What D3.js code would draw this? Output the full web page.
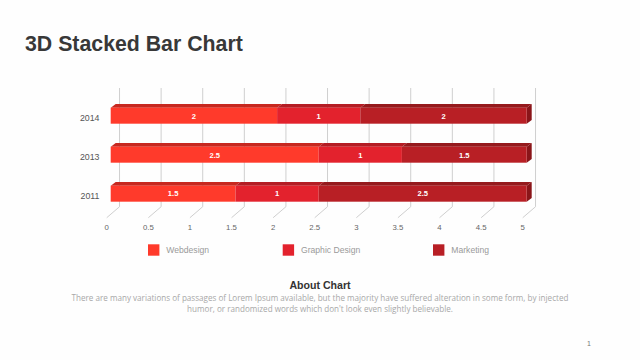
<!DOCTYPE html>
<html><head><meta charset="utf-8">
<script src="https://cdn.jsdelivr.net/npm/d3@7"></script>
<style>html,body{margin:0;padding:0;background:#fff;}svg{display:block;}</style>
</head><body>
<svg id="c" width="640" height="360"></svg>
<script>
const categories = ["2014", "2013", "2011"];
const seriesNames = ["Webdesign", "Graphic Design", "Marketing"];
const webdesign = [2, 2.5, 1.5];
const graphicDesign = [1, 1, 1];
const marketing = [2, 1.5, 2.5];
const xTicks = [0, 0.5, 1, 1.5, 2, 2.5, 3, 3.5, 4, 4.5, 5];
const tickLabels = ["0", "0.5", "1", "1.5", "2", "2.5", "3", "3.5", "4", "4.5", "5"];
const title = "3D Stacked Bar Chart";
const aboutTitle = "About Chart";
const aboutLines = [
  "There are many variations of passages of Lorem Ipsum available, but the majority have suffered alteration in some form, by injected",
  "humor, or randomized words which don't look even slightly believable."
];

const frontColors = ["#FF3A2B", "#E3222D", "#B81F25"];
const topColors = ["#C7281F", "#B41D24", "#951A1D"];
const sideColor = "#8A1519";

const svg = d3.select("#c");
svg.append("rect").attr("width", 640).attr("height", 360).attr("fill", "#fefefe");

svg.append("text").attr("x", 25).attr("y", 50.5).text(title)
  .attr("font-family", "Liberation Sans, Arial, sans-serif").attr("font-weight", "bold")
  .attr("font-size", 21.3).attr("fill", "#383838");

const x = d3.scaleLinear().domain([0, 5]).range([110.7, 526.7]);
const y = d3.scaleBand().domain(categories).range([84.7, 224.7]).padding(0.59);

// depth geometry
const D = {dx: 12.8, dy: -11};
const fFrac = -0.31, bFrac = 0.69;
const floorY = 214.3;
const gridTop = 88;
const barDepth = {dx: 5, dy: -3.6};

const g = svg.append("g");
// back wall gridlines
g.selectAll("line.grid").data(xTicks).enter().append("line")
  .attr("x1", d => x(d) + bFrac * D.dx).attr("x2", d => x(d) + bFrac * D.dx)
  .attr("y1", gridTop).attr("y2", floorY + bFrac * D.dy)
  .attr("stroke", "#cfcfcf").attr("stroke-width", 1);
// floor ticks
g.selectAll("line.floor").data(xTicks).enter().append("line")
  .attr("x1", d => x(d) + bFrac * D.dx).attr("y1", floorY + bFrac * D.dy)
  .attr("x2", d => x(d) + fFrac * D.dx).attr("y2", floorY + fFrac * D.dy)
  .attr("stroke", "#cfcfcf").attr("stroke-width", 1);
// tick labels
g.selectAll("text.tick").data(xTicks).enter().append("text")
  .attr("x", (d, i) => x(d) + fFrac * D.dx).attr("y", 229.5)
  .attr("text-anchor", "middle").attr("font-family", "Liberation Sans, Arial, sans-serif")
  .attr("font-size", 7.8).attr("fill", "#666").text((d, i) => tickLabels[i]);

// category labels
g.selectAll("text.cat").data(categories).enter().append("text")
  .attr("x", 99.5).attr("y", d => y(d) + y.bandwidth() / 2 + 5)
  .attr("text-anchor", "end").attr("font-family", "Liberation Sans, Arial, sans-serif")
  .attr("font-size", 8.8).attr("fill", "#555").text(d => d);

// stacked bars
const rows = categories.map((c, i) => ({cat: c, vals: [webdesign[i], graphicDesign[i], marketing[i]]}));
rows.forEach(r => {
  let acc = 0;
  const y0 = y(r.cat), h = y.bandwidth();
  r.vals.forEach((v, s) => {
    const xa = x(acc), xb = x(acc + v);
    const last = s === r.vals.length - 1;
    g.append("path").attr("d", `M${xa},${y0}L${xa + barDepth.dx},${y0 + barDepth.dy}L${xb + barDepth.dx},${y0 + barDepth.dy}L${xb},${y0}Z`)
      .attr("fill", topColors[s]);
    if (last) {
      g.append("path").attr("d", `M${xb},${y0}L${xb + barDepth.dx},${y0 + barDepth.dy}L${xb + barDepth.dx},${y0 + h + barDepth.dy}L${xb},${y0 + h}Z`)
        .attr("fill", sideColor);
    }
    g.append("rect").attr("x", xa).attr("y", y0).attr("width", xb - xa).attr("height", h)
      .attr("fill", frontColors[s]);
    g.append("text").attr("x", (xa + xb) / 2).attr("y", y0 + h / 2 + 2.8)
      .attr("text-anchor", "middle").attr("font-family", "Liberation Sans, Arial, sans-serif")
      .attr("font-weight", "bold").attr("font-size", 7.6).attr("fill", "#fff").text(v);
    acc += v;
  });
});

// legend
const legendX = [148, 282.7, 433];
const lg = svg.append("g");
seriesNames.forEach((n, i) => {
  lg.append("rect").attr("x", legendX[i]).attr("y", 244.3).attr("width", 11.4).attr("height", 11.4)
    .attr("fill", frontColors[i]);
  lg.append("text").attr("x", legendX[i] + 18.3).attr("y", 253.2).text(n)
    .attr("font-family", "Liberation Sans, Arial, sans-serif").attr("font-size", 8.6).attr("fill", "#9a9a9a");
});

svg.append("text").attr("x", 320).attr("y", 289.2).attr("text-anchor", "middle").text(aboutTitle)
  .attr("font-family", "Liberation Sans, Arial, sans-serif").attr("font-weight", "bold")
  .attr("font-size", 10.6).attr("fill", "#333");
aboutLines.forEach((l, i) => {
  svg.append("text").attr("x", 320).attr("y", 301 + i * 10.6).attr("text-anchor", "middle").text(l)
    .attr("font-family", "Open Sans, sans-serif").attr("font-size", 8.1).attr("fill", "#a8a8a8");
});
svg.append("text").attr("x", 589).attr("y", 345.5).attr("text-anchor", "middle").text("1")
  .attr("font-family", "Liberation Sans, Arial, sans-serif").attr("font-size", 7).attr("fill", "#777");
</script>
</body></html>
